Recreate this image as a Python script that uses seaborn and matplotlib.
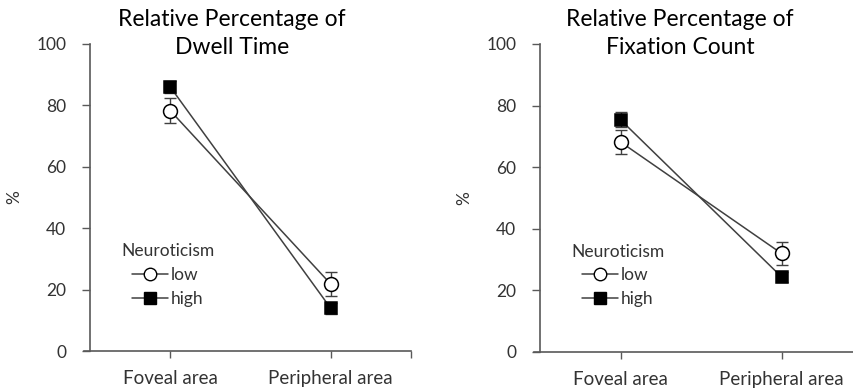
import pandas as pd
import matplotlib
matplotlib.use('Agg')
import matplotlib.pyplot as plt
import seaborn as sns
from matplotlib.lines import Line2D

# values
areas = ['Foveal area', 'Peripheral area']
groups = ['low', 'high']

dwell_low = [78.3, 21.8]
dwell_high = [86.0, 13.9]
dwell_low_err = [4.0, 4.0]
dwell_high_err = [1.8, 1.8]

fix_low = [68.2, 32.0]
fix_high = [75.4, 24.4]
fix_low_err = [3.8, 3.6]
fix_high_err = [2.5, 1.6]

titles = [['Relative Percentage of', 'Dwell Time'],
          ['Relative Percentage of', 'Fixation Count']]

sns.set_style('white')
plt.rcParams['font.family'] = ['Lato', 'DejaVu Sans']

ink = '#404040'
spine_col = '#595959'
text_col = '#333333'


def make_frame(low, high, low_err, high_err):
    rows = []
    for i, a in enumerate(areas):
        rows.append({'area': a, 'pos': i, 'group': 'low', 'value': low[i], 'err': low_err[i]})
        rows.append({'area': a, 'pos': i, 'group': 'high', 'value': high[i], 'err': high_err[i]})
    return pd.DataFrame(rows)


def draw_panel(ax, df, title_x, title):
    sns.lineplot(data=df, x='pos', y='value', hue='group', style='group',
                 hue_order=groups, style_order=groups,
                 palette={'low': ink, 'high': ink},
                 markers={'low': 'o', 'high': 's'}, dashes=False,
                 markersize=10, linewidth=1.1, markeredgewidth=1.1,
                 markeredgecolor='black', legend=False, ax=ax, zorder=3)
    for ln in ax.lines:
        if ln.get_marker() == 'o':
            ln.set_markerfacecolor('white')
        else:
            ln.set_markerfacecolor('black')
            ln.set_markersize(9)
    for g in groups:
        sub = df[df['group'] == g]
        ax.errorbar(sub['pos'], sub['value'], yerr=sub['err'], fmt='none',
                    ecolor=ink, elinewidth=1.0, capsize=4, capthick=1.0, zorder=2)

    ax.set_xlim(-0.5, 1.5)
    ax.set_ylim(0, 100)
    ax.set_xticks([0, 1])
    ax.set_xticklabels(areas, fontsize=13.5, color=text_col)
    ax.set_xticks([1.5], minor=True)
    ax.set_yticks([0, 20, 40, 60, 80, 100])
    ax.tick_params(axis='y', direction='out', length=6, width=1, colors=spine_col,
                   labelcolor=text_col, labelsize=12.5, pad=11, left=True)
    ax.tick_params(axis='x', which='both', direction='out', length=5, width=1,
                   colors=spine_col, labelcolor=text_col, pad=9, bottom=True)
    ax.set_xlabel('')
    ax.set_ylabel('%', fontsize=12.5, color=text_col)
    ax.yaxis.set_label_coords(-0.21, 0.5)
    for s in ['top', 'right']:
        ax.spines[s].set_visible(False)
    for s in ['left', 'bottom']:
        ax.spines[s].set_color(spine_col)
        ax.spines[s].set_linewidth(1.2)
    ax.spines['bottom'].set_bounds(-0.54, 1.5)

    handles = [
        Line2D([], [], color=ink, lw=1.1, marker='o', markersize=9,
               markerfacecolor='white', markeredgecolor='black'),
        Line2D([], [], color=ink, lw=1.1, marker='s', markersize=8,
               markerfacecolor='black', markeredgecolor='black'),
    ]
    leg = ax.legend(handles, groups, title='Neuroticism', frameon=False,
                    loc='upper left', bbox_to_anchor=(0.07, 0.38),
                    fontsize=12.5, title_fontsize=12.5, handlelength=2.1,
                    handletextpad=0.15, labelspacing=0.45, borderpad=0)
    leg.get_title().set_color(text_col)
    for t in leg.get_texts():
        t.set_color(text_col)

    fig = ax.figure
    fig.text(title_x, 1 - 20 / 392, title[0], ha='center', va='center',
             fontsize=16.5, color='black')
    fig.text(title_x, 1 - 48 / 392, title[1], ha='center', va='center',
             fontsize=16.5, color='black')


fig = plt.figure(figsize=(8.54, 3.92), dpi=100)
ax1 = fig.add_axes([90 / 854, 1 - 351 / 392, 321 / 854, 307 / 392])
ax2 = fig.add_axes([540 / 854, 1 - 352 / 392, 322 / 854, 308 / 392])

draw_panel(ax1, make_frame(dwell_low, dwell_high, dwell_low_err, dwell_high_err),
           232 / 854, titles[0])
draw_panel(ax2, make_frame(fix_low, fix_high, fix_low_err, fix_high_err),
           680 / 854, titles[1])

fig.savefig('out.png', dpi=100)
